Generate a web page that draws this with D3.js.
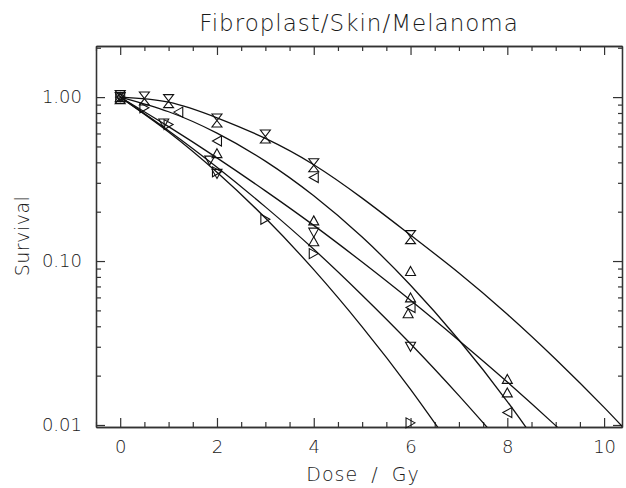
<!DOCTYPE html>
<html>
<head>
<meta charset="utf-8">
<script src="https://cdn.jsdelivr.net/npm/d3@7"></script>
<style>
  body { margin: 0; background: #fff; }
  text { font-family: "DejaVu Sans", sans-serif; font-weight: 200; fill: #1a1a1a; }
</style>
</head>
<body>
<div id="main-svg"></div>
<script>

// fitted curves at whole doses (Gy)
var curveDose = [0, 1, 2, 3, 4, 5, 6, 7, 8, 9, 10, 11];
var curveHourglass = [1, 0.932, 0.748, 0.560, 0.387, 0.242, 0.144, 0.0846, 0.0474, 0.0252, 0.0128, 0.00622];
var curveLeft = [1, 0.814, 0.603, 0.407, 0.250, 0.140, 0.0712, 0.0330, 0.0139, 0.00535];
var curveUp = [1, 0.661, 0.426, 0.268, 0.165, 0.0986, 0.0576, 0.0328, 0.0183, 0.00991, 0.00524];
var curveDown = [1, 0.624, 0.373, 0.214, 0.118, 0.0619, 0.0313, 0.0151, 0.00701];
var curveRight = [1, 0.613, 0.348, 0.183, 0.0886, 0.0397, 0.0165, 0.00634];

// measured points
var hourglassDose = [0, 0.5, 1, 2, 3, 4, 6];
var hourglassSurv = [1.0, 0.98, 0.945, 0.72, 0.575, 0.384, 0.14];
var leftDose = [0, 1.2, 2, 4, 6, 8];
var leftSurv = [1.0, 0.81, 0.54, 0.323, 0.052, 0.0119];
var upDose = [0, 2, 4, 4, 6, 6, 5.95, 8, 8];
var upSurv = [1.0, 0.455, 0.177, 0.132, 0.087, 0.060, 0.048, 0.0191, 0.0158];
var downDose = [0, 0.9, 1.85, 2, 4, 6];
var downSurv = [1.0, 0.69, 0.41, 0.34, 0.149, 0.030];
var rightDose = [0, 0.5, 1, 2, 3, 4, 6];
var rightSurv = [1.0, 0.86, 0.68, 0.35, 0.18, 0.111, 0.0103];

var xMajor = [0, 2, 4, 6, 8, 10];
var yMajor = [1, 0.1, 0.01];

var width = 626, height = 488;
var margin = { top: 46, right: 4, bottom: 61, left: 96 };

var x = d3.scaleLinear()
    .domain([-0.5, 10.37])
    .range([margin.left, width - margin.right]);

var y = d3.scaleLog()
    .domain([0.00972, 2.05])
    .range([height - margin.bottom, margin.top]);

var canvas = d3.select("#main-svg")
    .append("svg")
    .attr("width", width)
    .attr("height", height);

canvas.append("defs").append("clipPath")
    .attr("id", "frame")
  .append("rect")
    .attr("x", margin.left)
    .attr("y", margin.top)
    .attr("width", width - margin.right - margin.left)
    .attr("height", height - margin.bottom - margin.top);

// minor ticks: every 0.5 Gy, and 2..9 in each decade
var xMinor = d3.range(-0.5, 10.4, 0.5).filter(function(d) { return d % 2 != 0; });
var yMinor = [];
[0.01, 0.1, 1].forEach(function(dec) {
  for (var k = 2; k <= 9; k++) {
    if (dec * k < 2.05) yMinor.push(dec * k);
  }
});

var bottom = height - margin.bottom, right = width - margin.right;

function styleAxis(g) {
  g.selectAll("path").attr("stroke", "#333").attr("stroke-width", 1.3);
  g.selectAll("line").attr("stroke", "#333").attr("stroke-width", 1.2);
  g.selectAll("text")
    .attr("font-family", "DejaVu Sans")
    .attr("font-weight", 200)
    .attr("font-size", 18)
    .attr("fill", "#1a1a1a");
}

canvas.append("g")
    .attr("transform", "translate(0," + bottom + ")")
    .call(d3.axisBottom(x).tickValues(xMajor).tickFormat(d3.format("d"))
      .tickSizeInner(-9).tickSizeOuter(0).tickPadding(13))
    .call(styleAxis);
canvas.append("g")
    .attr("transform", "translate(0," + bottom + ")")
    .call(d3.axisBottom(x).tickValues(xMinor).tickFormat("").tickSizeInner(-5).tickSizeOuter(0))
    .call(styleAxis);
canvas.append("g")
    .attr("transform", "translate(0," + margin.top + ")")
    .call(d3.axisTop(x).tickValues(xMajor).tickFormat("").tickSizeInner(-9).tickSizeOuter(0))
    .call(styleAxis);
canvas.append("g")
    .attr("transform", "translate(0," + margin.top + ")")
    .call(d3.axisTop(x).tickValues(xMinor).tickFormat("").tickSizeInner(-5).tickSizeOuter(0))
    .call(styleAxis);

canvas.append("g")
    .attr("transform", "translate(" + margin.left + ",0)")
    .call(d3.axisLeft(y).tickValues(yMajor).tickFormat(d3.format(".2f"))
      .tickSizeInner(-9).tickSizeOuter(0).tickPadding(14))
    .call(styleAxis);
canvas.append("g")
    .attr("transform", "translate(" + margin.left + ",0)")
    .call(d3.axisLeft(y).tickValues(yMinor).tickFormat("").tickSizeInner(-5).tickSizeOuter(0))
    .call(styleAxis);
canvas.append("g")
    .attr("transform", "translate(" + right + ",0)")
    .call(d3.axisRight(y).tickValues(yMajor).tickFormat("").tickSizeInner(-9).tickSizeOuter(0))
    .call(styleAxis);
canvas.append("g")
    .attr("transform", "translate(" + right + ",0)")
    .call(d3.axisRight(y).tickValues(yMinor).tickFormat("").tickSizeInner(-4).tickSizeOuter(0))
    .call(styleAxis);

// fitted survival curves
var line = d3.line()
    .x(function(d) { return x(d[0]); })
    .y(function(d) { return y(d[1]); })
    .curve(d3.curveNatural);

var curves = [curveHourglass, curveLeft, curveUp, curveDown, curveRight];

canvas.append("g")
    .attr("clip-path", "url(#frame)")
  .selectAll("path")
  .data(curves)
  .enter().append("path")
    .attr("d", function(c) {
      return line(c.map(function(v, i) { return [curveDose[i], v]; }));
    })
    .attr("fill", "none")
    .attr("stroke", "#111")
    .attr("stroke-width", 1.3);

// open triangle markers
var w = 10, h = 9;
var shapes = {
  up: "M0," + (-h / 2) + "L" + (w / 2) + "," + (h / 2) + "L" + (-w / 2) + "," + (h / 2) + "Z",
  down: "M0," + (h / 2) + "L" + (w / 2) + "," + (-h / 2) + "L" + (-w / 2) + "," + (-h / 2) + "Z",
  left: "M" + (-h / 2) + ",0L" + (h / 2) + "," + (-w / 2) + "L" + (h / 2) + "," + (w / 2) + "Z",
  right: "M" + (h / 2) + ",0L" + (-h / 2) + "," + (-w / 2) + "L" + (-h / 2) + "," + (w / 2) + "Z",
  hourglass: "M" + (-w / 2) + ",-6.5L" + (w / 2) + ",-6.5L0,0ZM0,0L" + (w / 2) + ",6.5L" + (-w / 2) + ",6.5Z"
};

var series = [
  { shape: "hourglass", dose: hourglassDose, surv: hourglassSurv },
  { shape: "left", dose: leftDose, surv: leftSurv },
  { shape: "up", dose: upDose, surv: upSurv },
  { shape: "down", dose: downDose, surv: downSurv },
  { shape: "right", dose: rightDose, surv: rightSurv }
];

series.forEach(function(s) {
  canvas.append("g")
    .selectAll("path")
    .data(s.dose.map(function(d, i) { return [d, s.surv[i]]; }))
    .enter().append("path")
      .attr("transform", function(d) { return "translate(" + x(d[0]) + "," + y(d[1]) + ")"; })
      .attr("d", shapes[s.shape])
      .attr("fill", "none")
      .attr("stroke", "#111")
      .attr("stroke-width", 1.1);
});

// titles
canvas.append("text")
    .attr("x", 359)
    .attr("y", 31)
    .attr("text-anchor", "middle")
    .attr("font-size", 23)
    .attr("letter-spacing", 1)
    .text("Fibroplast/Skin/Melanoma");

canvas.append("text")
    .attr("x", 363)
    .attr("y", 481)
    .attr("text-anchor", "middle")
    .attr("font-size", 19)
    .attr("letter-spacing", 1)
    .attr("word-spacing", 6)
    .text("Dose / Gy");

canvas.append("text")
    .attr("transform", "translate(29,236) rotate(-90)")
    .attr("text-anchor", "middle")
    .attr("font-size", 19)
    .attr("letter-spacing", 0.5)
    .text("Survival");

</script>
</body>
</html>
